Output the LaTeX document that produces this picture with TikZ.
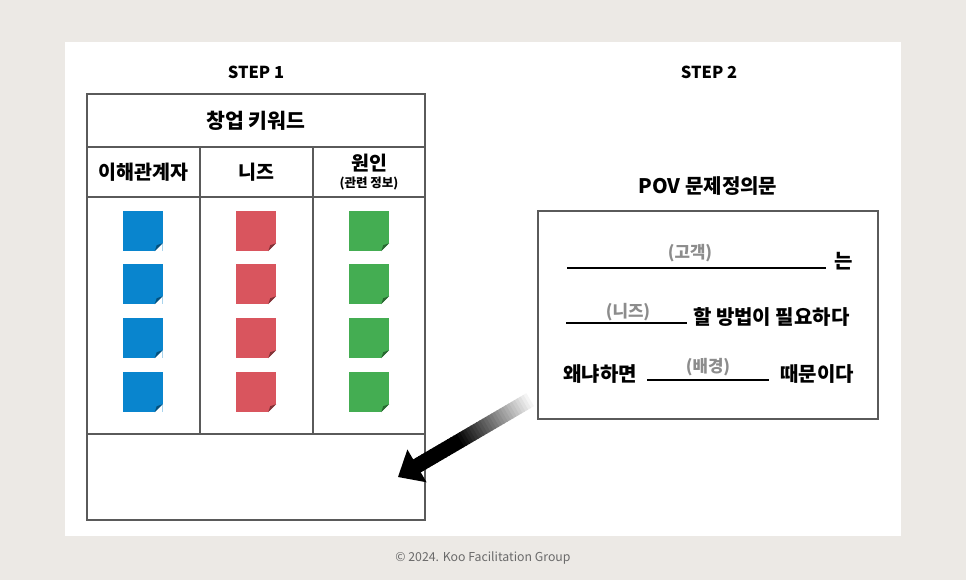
\documentclass[tikz,border=0pt]{standalone}
\usepackage{fontspec}
\setmainfont{Noto Sans CJK KR}
\usepackage{tikz}
\usetikzlibrary{positioning,calc}
\definecolor{paper}{HTML}{ECE9E5}
\definecolor{gridline}{HTML}{5A5A5A}
\definecolor{noteblue}{HTML}{0985CE}
\definecolor{notered}{HTML}{D9555E}
\definecolor{notegreen}{HTML}{44AD52}
\definecolor{hint}{HTML}{8C8C8C}
\definecolor{foot}{HTML}{6A6A6A}
\tikzstyle{cell} = [draw=gridline,line width=1.2pt,inner sep=0pt,outer sep=0pt,font=\fontsize{19.5}{21}\selectfont\bfseries]
\tikzstyle{note} = [minimum size=40pt,inner sep=0pt]
\tikzstyle{steplabel} = [font=\fontsize{16.5}{18}\selectfont\bfseries]
\tikzstyle{sentence} = [anchor=base west,inner sep=0pt,font=\fontsize{20}{22}\selectfont\bfseries]
\tikzstyle{hinttext} = [text=hint,inner sep=0pt,font=\fontsize{16.8}{18}\selectfont\bfseries]

\begin{document}
\begin{tikzpicture}[x=1pt,y=-1pt]
  \useasboundingbox (0,0) rectangle (966,580);
  \fill[paper] (0,0) rectangle (966,580);
  \fill[white] (65,42) rectangle (901,536);

  % step 1
  \node[steplabel] (step1) at (256,72) {STEP 1};
  \node[cell, minimum width=338pt, minimum height=53pt, font=\fontsize{20.5}{22}\selectfont\bfseries] (keyword) at (256,120.5) {창업 키워드};
  \node[cell, minimum width=113pt, minimum height=50pt, anchor=north west] (stake) at (keyword.south west) {이해관계자};
  \node[cell, minimum width=113pt, minimum height=50pt, anchor=north west] (needs) at (stake.north east) {니즈};
  \node[cell, minimum width=112pt, minimum height=50pt, anchor=north west, align=center] (cause) at (needs.north east) {원인\\[-4pt]{\fontsize{12.5}{13}\selectfont (관련 정보)}};
  \node[cell, minimum width=113pt, minimum height=237pt, anchor=north west] (stakearea) at (stake.south west) {};
  \node[cell, minimum width=113pt, minimum height=237pt, anchor=north west] (needsarea) at (needs.south west) {};
  \node[cell, minimum width=112pt, minimum height=237pt, anchor=north west] (causearea) at (cause.south west) {};
  \node[cell, minimum width=338pt, minimum height=86pt, anchor=north west] (memo) at (stakearea.south west) {};

  \foreach \col/\clr/\cx in {a/noteblue/142.5, b/notered/256, c/notegreen/369}
    \foreach \row/\cy in {1/231, 2/284, 3/338, 4/392} {
      \node[note, fill=\clr] (\col\row) at (\cx,\cy) {};
      \fill[white] ($(\col\row.south east)+(-8,0)$) -- (\col\row.south east) -- ($(\col\row.south east)+(0,-8)$) -- cycle;
      \fill[\clr!60!black] ($(\col\row.south east)+(-8,0)$) -- ($(\col\row.south east)+(0,-8)$) -- ($(\col\row.south east)+(-6,-6)$) -- cycle;
    }

  % step 2
  \node[steplabel] (step2) at (709,72) {STEP 2};
  \node[draw=gridline, line width=1.2pt, minimum width=340pt, minimum height=208pt, inner sep=0pt] (povbox) at (708,315) {};
  \node[cell, draw=none, font=\fontsize{20}{22}\selectfont\bfseries] (povtitle) at (708,186) {POV 문제정의문};

  \draw[line width=1.2pt] (567,268) -- (826,268);
  \node[hinttext] (customer) at (690,253) {(고객)};
  \node[sentence] (line1) at (834,268) {는};

  \draw[line width=1.2pt] (566,323) -- (687,323);
  \node[hinttext] (need) at (628,312) {(니즈)};
  \node[sentence] (line2) at (693,324) {할 방법이 필요하다};

  \node[sentence] (line3a) at (563,381) {왜냐하면};
  \draw[line width=1.2pt] (647,380) -- (769,380);
  \node[hinttext] (context) at (708,367) {(배경)};
  \node[sentence] (line3b) at (780,381) {때문이다};

  % arrow from step 2 back to the table
  \coordinate (arrowtail) at (533,398);
  \coordinate (arrowtip) at (398,477);
  \coordinate (headbase) at ($(arrowtip)!22pt!(arrowtail)$);
  \foreach \i in {0,...,39} {
    \pgfmathsetmacro\shadeval{min(100,\i*4)}
    \pgfmathsetmacro\segbeg{\i/40}
    \pgfmathsetmacro\segend{(\i+1.3)/40}
    \draw[line width=15pt, black!\shadeval] ($(arrowtail)!\segbeg!(headbase)$) -- ($(arrowtail)!\segend!(headbase)$);
  }
  \fill[black] (arrowtip) -- ($(headbase)!19pt!90:(arrowtail)$) -- ($(headbase)!19pt!-90:(arrowtail)$) -- cycle;

  \node[text=foot, font=\fontsize{12.3}{14}\selectfont] (copyright) at (483,558) {© 2024. Koo Facilitation Group};
\end{tikzpicture}
\end{document}
